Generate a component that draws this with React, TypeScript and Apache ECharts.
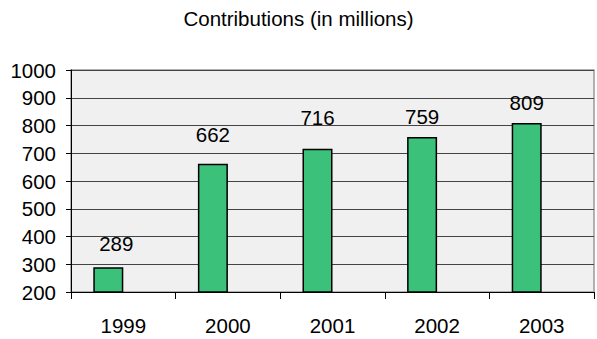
import React, { useEffect, useRef } from "react";
import * as echarts from "echarts";

const categories = ["1999", "2000", "2001", "2002", "2003"];
const contributions = [289, 662, 716, 759, 809];
const emptySeries = [null, null, null, null, null];
const yTicks = { min: 200, max: 1000, interval: 100 };
const titleText = "Contributions (in millions)";

// manual label nudges (x, y) as placed in the original chart
const labelNudges: [number, number][] = [[8, -2], [0, -8], [0, -10], [0, 1], [0, 1]];

const FONT = "'Liberation Sans', Arial, sans-serif";
const FS = 20.5;

export default function App() {
  const ref = useRef<HTMLDivElement>(null);
  useEffect(() => {
    if (!ref.current) return;
    const chart = echarts.init(ref.current, null, { renderer: "svg" });
    const barData = contributions.map((v, i) => ({
      value: v,
      label: { offset: labelNudges[i] },
    }));
    chart.setOption({
      animation: false,
      backgroundColor: "#ffffff",
      textStyle: { fontFamily: FONT },
      title: {
        text: titleText,
        left: "center",
        top: 3,
        textStyle: { fontFamily: FONT, fontSize: FS, fontWeight: "normal", color: "#000" },
      },
      grid: {
        left: 71,
        right: 3,
        top: 70,
        bottom: 47,
        show: true,
        backgroundColor: "#f0f0f0",
        borderColor: "#999999",
        borderWidth: 1.5,
      },
      xAxis: {
        type: "category",
        data: categories,
        axisLine: { show: true, lineStyle: { color: "#000", width: 1 } },
        axisTick: { show: true, length: 7, lineStyle: { color: "#000" } },
        axisLabel: { color: "#000", fontSize: FS, fontFamily: FONT, margin: 23 },
        splitLine: { show: false },
      },
      yAxis: {
        type: "value",
        min: yTicks.min,
        max: yTicks.max,
        interval: yTicks.interval,
        axisLine: { show: true, lineStyle: { color: "#000", width: 1 } },
        axisTick: { show: true, length: 5, lineStyle: { color: "#000" } },
        axisLabel: {
          color: "#000",
          fontSize: FS,
          fontFamily: FONT,
          margin: 15,
          formatter: (v: number) => String(v),
        },
        splitLine: { show: true, lineStyle: { color: "#444", width: 1 } },
      },
      series: [
        {
          type: "bar",
          data: barData,
          barWidth: 30,
          barGap: "0%",
          itemStyle: { color: "#3bc17a", borderColor: "#000", borderWidth: 1.5 },
          label: {
            show: true,
            position: "top",
            distance: 11,
            color: "#000",
            fontSize: FS,
            fontFamily: FONT,
          },
        },
        {
          type: "bar",
          data: emptySeries,
          barWidth: 30,
          barGap: "0%",
          itemStyle: { color: "transparent" },
        },
      ],
    });
    return () => chart.dispose();
  }, []);
  return (
    <div
      ref={ref}
      style={{ position: "fixed", left: 0, top: 0, width: 597, height: 339 }}
    />
  );
}
